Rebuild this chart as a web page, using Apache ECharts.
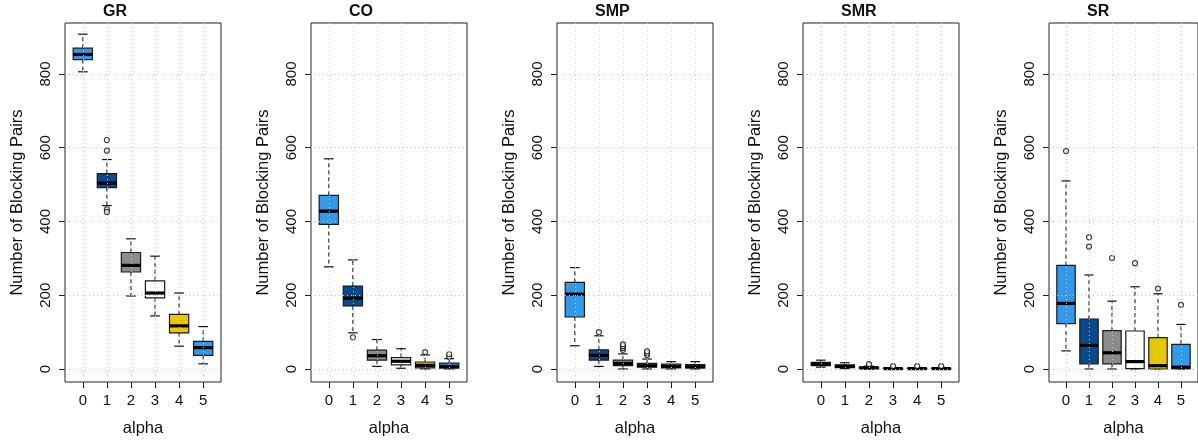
<!DOCTYPE html>
<html>
<head>
<meta charset="utf-8">
<script src="https://cdn.jsdelivr.net/npm/echarts@6/dist/echarts.min.js"></script>
<style>
html,body{margin:0;padding:0;background:#fff;}
#chart{width:1198px;height:442px;}
</style>
</head>
<body>
<div id="chart"></div>
<script>
// ---- data ----
const alphaValues = [0, 1, 2, 3, 4, 5];
const panelTitles = ['GR', 'CO', 'SMP', 'SMR', 'SR'];
const yTicks = [0, 200, 400, 600, 800];
const boxFills = ['#3399E8', '#0A4A8C', '#8C8C8C', '#FFFFFF', '#E8C600', '#3399E8'];

// stats per alpha: [lower whisker, Q1, median, Q3, upper whisker]
const grStats  = [[806,839,853,870,908],[443,492,504,530,568],[198,263,281,316,353],[144,193,206,239,306],[62,98,117,148,206],[14,37,58,75,115]];
const grOutliers = [[1,621],[1,592],[1,433],[1,426]];
const coStats  = [[277,392,428,471,570],[98,171,192,225,296],[7,24,36,51,80],[2,11,21,31,55],[0,3,10,19,38],[0,2,7,16,28]];
const coOutliers = [[1,86],[4,46],[5,33],[5,40]];
const smpStats = [[63,141,203,235,275],[7,24,37,52,90],[0,9,15,24,41],[0,5,9,15,27],[0,3,7,13,20],[0,3,6,12,20]];
const smpOutliers = [[1,100],[2,52],[2,57],[2,62],[2,67],[3,38],[3,43],[3,48]];
const smrStats = [[5,9,13,18,24],[1,4,7,11,17],[0,1,3,5,8],[0,0,1,2,4],[0,0,1,2,4],[0,0,1,2,4]];
const smrOutliers = [[2,13],[3,8],[4,8],[5,8]];
const srStats  = [[49,123,178,281,510],[0,14,64,135,255],[0,14,44,104,184],[0,1,20,103,223],[0,0,9,85,204],[0,0,5,67,121]];
const srOutliers = [[0,591],[1,357],[1,332],[2,301],[3,287],[4,218],[5,174]];

const panelStats = [grStats, coStats, smpStats, smrStats, srStats];
const panelOutliers = [grOutliers, coOutliers, smpOutliers, smrOutliers, srOutliers];

// ---- layout ----
const FONT = '"Liberation Sans", Arial, sans-serif';
const panelLeft0 = 65, panelStep = 246, panelW = 156, panelTop = 23, panelH = 359;
const xMin = -0.74, xMax = 5.74, yMin = -35.25, yMax = 938.3;

function renderBox(params, api) {
  const x = api.value(0);
  const lo = api.coord([x, api.value(1)]);
  const q1 = api.coord([x, api.value(2)]);
  const md = api.coord([x, api.value(3)]);
  const q3 = api.coord([x, api.value(4)]);
  const hi = api.coord([x, api.value(5)]);
  const w = api.size([0.8, 0])[0];
  const cx = lo[0];
  const fill = boxFills[x];
  const dash = {stroke: '#333', lineWidth: 1.2, lineDash: [4, 3], fill: null};
  const solid = {stroke: '#111', lineWidth: 1.2, fill: null};
  return {
    type: 'group',
    children: [
      {type: 'line', shape: {x1: cx, y1: q3[1], x2: cx, y2: hi[1]}, style: dash},
      {type: 'line', shape: {x1: cx, y1: q1[1], x2: cx, y2: lo[1]}, style: dash},
      {type: 'line', shape: {x1: cx - w / 4, y1: hi[1], x2: cx + w / 4, y2: hi[1]}, style: solid},
      {type: 'line', shape: {x1: cx - w / 4, y1: lo[1], x2: cx + w / 4, y2: lo[1]}, style: solid},
      {type: 'rect', shape: {x: cx - w / 2, y: q3[1], width: w, height: q1[1] - q3[1]},
        style: {fill: fill, stroke: '#1a1a1a', lineWidth: 1.2}},
      {type: 'line', shape: {x1: cx - w / 2, y1: md[1], x2: cx + w / 2, y2: md[1]},
        style: {stroke: '#000', lineWidth: 3.2, fill: null}}
    ]
  };
}

const gridLine = {show: true, lineStyle: {color: '#C8C8C8', type: [1, 3], width: 1}};
const grids = [], xAxes = [], yAxes = [], series = [], graphics = [];
panelTitles.forEach((title, i) => {
  const left = panelLeft0 + panelStep * i;
  grids.push({left: left, top: panelTop, width: panelW, height: panelH, show: true,
    borderColor: '#222', borderWidth: 1, backgroundColor: 'transparent', containLabel: false});
  xAxes.push({
    gridIndex: i, type: 'value', min: xMin, max: xMax, position: 'bottom',
    name: 'alpha', nameLocation: 'middle', nameGap: 38,
    nameTextStyle: {fontFamily: FONT, fontSize: 16.5, color: '#111'},
    axisLine: {show: false, onZero: false},
    axisTick: {show: true, length: 6, customValues: alphaValues, lineStyle: {color: '#222'}},
    axisLabel: {show: true, customValues: alphaValues, margin: 11, fontFamily: FONT, fontSize: 15, color: '#111',
      formatter: v => String(v)},
    splitLine: gridLine
  });
  yAxes.push({
    gridIndex: i, type: 'value', min: yMin, max: yMax, position: 'left',
    name: 'Number of Blocking Pairs', nameLocation: 'middle', nameGap: 39, nameRotate: 90,
    nameTextStyle: {fontFamily: FONT, fontSize: 16.5, color: '#111'},
    axisLine: {show: false, onZero: false},
    axisTick: {show: true, length: 6, customValues: yTicks, lineStyle: {color: '#222'}},
    axisLabel: {show: true, customValues: yTicks, rotate: 90, margin: 12, fontFamily: FONT, fontSize: 15, color: '#111',
      formatter: v => String(v)},
    splitLine: gridLine
  });
  series.push({
    type: 'custom', xAxisIndex: i, yAxisIndex: i, z: -1, silent: true,
    renderItem: renderBox,
    encode: {x: 0, y: [1, 2, 3, 4, 5]},
    data: panelStats[i].map((s, k) => [alphaValues[k]].concat(s))
  });
  series.push({
    type: 'scatter', xAxisIndex: i, yAxisIndex: i, z: -1, silent: true,
    symbol: 'circle', symbolSize: 5,
    itemStyle: {color: '#fff', borderColor: '#111', borderWidth: 1.2},
    data: panelOutliers[i]
  });
  graphics.push({type: 'text', left: left + panelW / 2 - 40, top: 4,
    style: {text: title, width: 80, align: 'center', font: 'bold 16px ' + FONT, fill: '#111'}});
});

const chart = echarts.init(document.getElementById('chart'), null, {renderer: 'canvas'});
chart.setOption({
  animation: false,
  backgroundColor: '#fff',
  grid: grids,
  xAxis: xAxes,
  yAxis: yAxes,
  series: series,
  graphic: graphics
});
</script>
</body>
</html>
